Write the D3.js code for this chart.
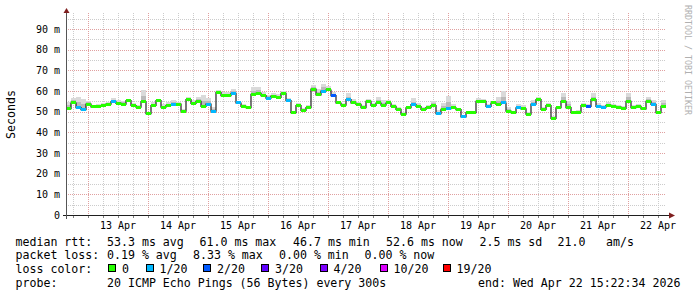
<!DOCTYPE html>
<html>
<head>
<meta charset="utf-8">
<script src="https://cdn.jsdelivr.net/npm/d3@7"></script>
<style>
  body { margin: 0; background: #fff; }
  svg { display: block; font-family: "DejaVu Sans Mono", monospace; }
</style>
</head>
<body>
<div id="chart"></div>
<script>
// Smokeping style latency graph, last 10 days, 2 hour consolidated steps.

// Data
const startTime = Date.UTC(2026, 3, 12, 15, 22, 34);
const endTime = Date.UTC(2026, 3, 22, 15, 22, 34);
const stepHours = 2;

// median rtt per step (ms)
const median = [
  51.5, 54.2, 52.0, 51.0, 53.7, 52.3, 52.5, 53.0, 53.7, 54.7,
  54.0, 53.7, 55.3, 53.0, 52.2, 54.7, 49.0, 53.0, 55.3, 52.2,
  53.0, 53.4, 53.7, 50.3, 55.8, 54.0, 55.0, 52.5, 53.7, 50.3,
  59.4, 57.8, 57.8, 58.9, 54.2, 52.6, 51.9, 58.4, 58.9, 57.8,
  56.6, 57.5, 56.9, 58.9, 55.3, 49.5, 53.0, 50.6, 52.0, 60.9,
  58.1, 60.0, 60.5, 57.8, 54.2, 53.2, 55.8, 54.2, 53.5, 52.0,
  55.0, 53.0, 54.2, 53.1, 54.2, 52.6, 51.1, 48.8, 51.9, 53.4,
  52.5, 51.1, 52.0, 53.0, 49.0, 51.1, 51.5, 51.9, 51.0, 47.5,
  49.5, 49.5, 55.0, 55.0, 52.6, 54.2, 53.5, 54.2, 50.3, 49.5,
  51.9, 51.4, 48.8, 53.7, 55.8, 51.1, 53.0, 46.7, 51.9, 55.0,
  52.0, 49.5, 49.8, 53.0, 52.5, 55.8, 52.6, 52.2, 53.1, 52.6,
  52.2, 51.6, 55.0, 52.0, 52.6, 51.4, 55.0, 53.5, 49.5, 52.6
];

// lost pings out of 20 per step
const lossCount = [
  0, 0, 1, 1, 0, 0, 0, 0, 0, 1,
  0, 0, 0, 0, 0, 0, 0, 0, 0, 0,
  0, 1, 0, 0, 0, 0, 0, 0, 1, 1,
  0, 0, 0, 1, 1, 0, 0, 0, 0, 0,
  1, 0, 0, 0, 1, 0, 0, 0, 0, 0,
  0, 1, 0, 2, 0, 0, 1, 0, 0, 0,
  0, 0, 0, 0, 0, 0, 0, 0, 0, 1,
  0, 0, 0, 0, 1, 0, 1, 0, 0, 1,
  0, 0, 0, 0, 1, 0, 0, 1, 0, 0,
  1, 0, 0, 1, 0, 0, 0, 0, 0, 0,
  0, 0, 0, 0, 2, 0, 1, 1, 0, 0,
  0, 0, 0, 0, 0, 0, 0, 1, 0, 0
];

// spread of the ping "smoke" above the median (ms)
const smokeUp = [
  3, 2.5, 5, 5, 1.5, 1, 1, 1, 1, 2,
  1.5, 1.5, 1, 1, 1, 6, 1, 1.5, 1, 1.5,
  1.5, 2.4, 1, 1, 1.5, 1.5, 2, 5.5, 3, 2,
  1, 1.5, 1.5, 2, 1, 1, 1, 3.5, 3, 1.5,
  1.5, 1.5, 1.5, 1, 1.5, 1, 1, 1, 1, 2,
  3, 3.6, 2, 1.5, 1, 1, 3, 2, 1, 1,
  1, 1, 3, 2.5, 1.5, 1, 1, 1, 1, 3,
  1.5, 1, 1, 2, 2, 3, 6, 2, 1, 1,
  1, 1, 1.5, 1, 1, 1, 3.5, 6, 2, 1,
  2, 2, 1, 2, 1.5, 1, 1, 1, 1, 4,
  3, 1, 1, 1, 1, 3, 1.5, 1, 1.5, 1,
  1, 1, 4, 1, 1, 1, 2, 2, 1, 3
];

const yTicks = [0, 10, 20, 30, 40, 50, 60, 70, 80, 90];
const yTickLabels = ["0", "10 m", "20 m", "30 m", "40 m", "50 m", "60 m", "70 m", "80 m", "90 m"];

const lossLevels = [0, 1, 2, 3, 4, 10, 19];
const lossLabels = ["0", "1/20", "2/20", "3/20", "4/20", "10/20", "19/20"];
const lossColors = ["#26ff00", "#00b8ff", "#0059ff", "#5e00ff", "#7e00ff", "#dd00ff", "#ff0000"];

const rttStats = ["53.3 ms avg", "61.0 ms max", "46.7 ms min", "52.6 ms now", "2.5 ms sd", "21.0", "am/s"];
const lossStats = ["0.19 % avg", "8.33 % max", "0.00 % min", "0.00 % now"];
const probeText = "20 ICMP Echo Pings (56 Bytes) every 300s";
const endText = "end: Wed Apr 22 15:22:34 2026";

// Layout
const width = 697;
const height = 297;
const plotLeft = 66;
const plotRight = 666;
const plotTop = 13;
const plotBottom = 215;

const data = median.map((m, i) => ({
    t0: startTime + i * stepHours * 3600e3,
    t1: startTime + (i + 1) * stepHours * 3600e3,
    median: m,
    loss: lossCount[i],
    smoke: smokeUp[i]
}));

const svg = d3.select("#chart").append("svg")
    .attr("width", width)
    .attr("height", height);

const x = d3.scaleUtc()
    .domain([startTime, endTime])
    .range([plotLeft, plotRight]);

const y = d3.scaleLinear()
    .domain([0, 97.75])
    .range([plotBottom, plotTop]);

const lossColour = d3.scaleThreshold()
    .domain(lossLevels.slice(1))
    .range(lossColors);

// Grid: minor every 6 hours / 5 ms, major every day / 10 ms
const minorX = d3.utcHour.every(6).range(new Date(startTime), new Date(endTime))
    .filter(d => d.getUTCHours() !== 0);
const majorX = d3.utcDay.range(new Date(startTime), new Date(endTime));
const minorY = d3.range(5, 100, 10);

const grid = svg.append("g").attr("shape-rendering", "crispEdges");

grid.selectAll(".vminor").data(minorX).join("line")
    .attr("x1", d => Math.round(x(d)) + 0.5).attr("x2", d => Math.round(x(d)) + 0.5)
    .attr("y1", plotTop).attr("y2", plotBottom)
    .attr("stroke", "#cccccc").attr("stroke-dasharray", "1,1");

grid.selectAll(".hminor").data(minorY).join("line")
    .attr("x1", plotLeft).attr("x2", plotRight)
    .attr("y1", d => Math.round(y(d)) + 0.5).attr("y2", d => Math.round(y(d)) + 0.5)
    .attr("stroke", "#cccccc").attr("stroke-dasharray", "1,1");

grid.selectAll(".vmajor").data(majorX).join("line")
    .attr("x1", d => Math.round(x(d)) + 0.5).attr("x2", d => Math.round(x(d)) + 0.5)
    .attr("y1", plotTop).attr("y2", plotBottom)
    .attr("stroke", "#e0a0a0").attr("stroke-dasharray", "1,1");

grid.selectAll(".hmajor").data(yTicks.slice(1)).join("line")
    .attr("x1", plotLeft).attr("x2", plotRight)
    .attr("y1", d => Math.round(y(d)) + 0.5).attr("y2", d => Math.round(y(d)) + 0.5)
    .attr("stroke", "#e0a0a0").attr("stroke-dasharray", "1,1");

// Smoke
const smoke = svg.append("g").attr("shape-rendering", "crispEdges");
smoke.selectAll("rect.outer").data(data).join("rect")
    .attr("x", d => x(d.t0))
    .attr("width", d => x(d.t1) - x(d.t0))
    .attr("y", d => y(d.median + d.smoke))
    .attr("height", d => y(d.median) - y(d.median + d.smoke))
    .attr("fill", "#dadada");
smoke.selectAll("rect.inner").data(data).join("rect")
    .attr("x", d => x(d.t0))
    .attr("width", d => x(d.t1) - x(d.t0))
    .attr("y", d => y(d.median + d.smoke / 2))
    .attr("height", d => y(d.median) - y(d.median + d.smoke / 2))
    .attr("fill", "#bababa");

// Median line (black steps), then loss coloured band on top
const stepData = data.concat([{ t0: endTime, median: median[median.length - 1] }]);
const line = d3.line()
    .x(d => x(d.t0))
    .y(d => y(d.median))
    .curve(d3.curveStepAfter);

svg.append("path")
    .attr("d", line(stepData))
    .attr("fill", "none")
    .attr("stroke", "#202020")
    .attr("stroke-width", 1.2);

svg.append("g").attr("shape-rendering", "crispEdges")
    .selectAll("rect").data(data).join("rect")
    .attr("x", d => x(d.t0))
    .attr("width", d => x(d.t1) - x(d.t0))
    .attr("y", d => y(d.median) - 1.5)
    .attr("height", 3)
    .attr("fill", d => lossColour(d.loss));

// Axes
const yAxis = svg.append("g")
    .attr("transform", `translate(${plotLeft + 1},0)`)
    .call(d3.axisLeft(y).tickValues(yTicks).tickFormat((d, i) => yTickLabels[i]).tickSize(0).tickPadding(7));
yAxis.select(".domain").remove();
yAxis.selectAll("text").attr("font-family", "DejaVu Sans Mono").attr("font-size", 10).attr("fill", "#000");

const noonTicks = d3.utcDay.range(new Date(startTime), new Date(endTime)).map(d => d3.utcHour.offset(d, 12));
const xAxis = svg.append("g")
    .attr("transform", `translate(0,${plotBottom})`)
    .call(d3.axisBottom(x).tickValues(noonTicks).tickFormat(d3.utcFormat("%d %b")).tickSize(0).tickPadding(6.4));
xAxis.select(".domain").remove();
xAxis.selectAll("text").attr("font-family", "DejaVu Sans Mono").attr("font-size", 10).attr("fill", "#000");

// small ticks under the x axis
svg.append("g").attr("shape-rendering", "crispEdges")
    .selectAll("line").data(minorX.concat(majorX)).join("line")
    .attr("x1", d => Math.round(x(d)) + 0.5).attr("x2", d => Math.round(x(d)) + 0.5)
    .attr("y1", plotBottom).attr("y2", plotBottom + 3)
    .attr("stroke", "#808080");

// axis lines with arrows
const axisG = svg.append("g").attr("shape-rendering", "crispEdges");
axisG.append("line")
    .attr("x1", plotLeft - 3).attr("x2", plotRight + 4)
    .attr("y1", plotBottom + 0.5).attr("y2", plotBottom + 0.5)
    .attr("stroke", "#1f1f1f");
axisG.append("line")
    .attr("x1", plotLeft + 0.5).attr("x2", plotLeft + 0.5)
    .attr("y1", plotBottom + 4).attr("y2", plotTop - 2)
    .attr("stroke", "#555");
svg.append("path")
    .attr("d", `M${plotRight + 9},${plotBottom + 0.5} L${plotRight + 3},${plotBottom - 2.5} L${plotRight + 3},${plotBottom + 3.5} Z`)
    .attr("fill", "#7f1f1f");
svg.append("path")
    .attr("d", `M${plotLeft + 0.5},${plotTop - 5} L${plotLeft - 2.5},${plotTop + 0} L${plotLeft + 3.5},${plotTop + 0} Z`)
    .attr("fill", "#7f1f1f");

// Vertical labels
svg.append("text")
    .attr("transform", `translate(15,${(plotTop + plotBottom) / 2 + 0.5}) rotate(-90)`)
    .attr("text-anchor", "middle")
    .attr("font-size", 11.6)
    .text("Seconds");

svg.append("text")
    .attr("transform", `translate(685,5) rotate(90)`)
    .attr("font-size", 8.3)
    .attr("fill", "#b0b0b0")
    .text("RRDTOOL / TOBI OETIKER");

// Legend
const legend = svg.append("g").attr("font-size", 11.6).attr("fill", "#000")
    .style("white-space", "pre");
const rowY = [245.5, 259.3, 273.2, 287];

legend.append("text").attr("x", 15.5).attr("y", rowY[0]).text("median rtt:");
const rttX = [107, 199.5, 293, 386, 479.5, 557.5, 606];
legend.selectAll(".rtt").data(rttStats).join("text")
    .attr("x", (d, i) => rttX[i]).attr("y", rowY[0]).text(d => d);

legend.append("text").attr("x", 15.5).attr("y", rowY[1]).text("packet loss:");
const lossX = [107, 193, 279, 364.5];
legend.selectAll(".lossStat").data(lossStats).join("text")
    .attr("x", (d, i) => lossX[i]).attr("y", rowY[1]).text(d => d);

legend.append("text").attr("x", 15.5).attr("y", rowY[2]).text("loss color:");
const swatchX = [108, 145.5, 203, 261, 319.5, 379.5, 442.5];
legend.selectAll("rect").data(lossColors).join("rect")
    .attr("x", (d, i) => swatchX[i] + 0.5).attr("y", 264.5)
    .attr("width", 7).attr("height", 7)
    .attr("fill", d => d).attr("stroke", "#000").attr("stroke-width", 1)
    .attr("shape-rendering", "crispEdges");
legend.selectAll(".lossLabel").data(lossLabels).join("text")
    .attr("x", (d, i) => swatchX[i] + 14).attr("y", rowY[2]).text(d => d);

legend.append("text").attr("x", 15.5).attr("y", rowY[3]).text("probe:");
legend.append("text").attr("x", 107).attr("y", rowY[3]).text(probeText);
legend.append("text").attr("x", 478).attr("y", rowY[3]).text(endText);
</script>
</body>
</html>
